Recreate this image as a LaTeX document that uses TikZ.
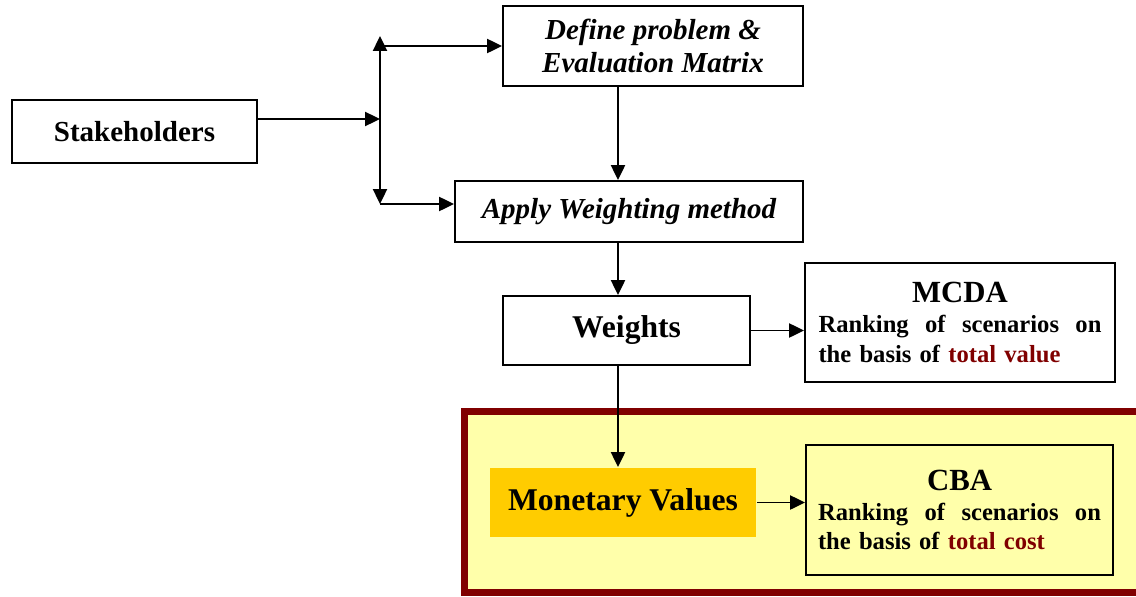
\documentclass[tikz,border=0pt]{standalone}
\usepackage{fontspec}
\setmainfont{Liberation Serif}
\usetikzlibrary{arrows.meta,positioning}
\definecolor{darkred}{RGB}{128,0,0}
\definecolor{paleyellow}{RGB}{255,255,170}
\definecolor{gold}{RGB}{255,204,0}

\begin{document}
\begin{tikzpicture}[->,>={Triangle[length=8.5pt,width=8pt]},line width=1.1pt,
        main node/.style={rectangle,draw,inner sep=0pt,font=\bfseries\fontsize{16.5}{19}\selectfont},
        task node/.style={main node,font=\bfseries\itshape\fontsize{16.5}{19}\selectfont},
        big node/.style={main node,font=\bfseries\fontsize{18}{21}\selectfont},
        result node/.style={main node,align=left,text width=161pt,font=\bfseries\fontsize{14}{17}\selectfont},
        frame node/.style={rectangle,draw=darkred,fill=paleyellow,line width=4pt}]

    \useasboundingbox (0,0) rectangle (22.72,-11.92);

    \node[main node,minimum width=4.9cm,minimum height=1.26cm] (stakeholders) at (2.69,-2.63) {Stakeholders};
    \node[task node,align=center,minimum width=6cm,minimum height=1.6cm] (define) at (13.06,-0.92) {Define problem \&\\Evaluation Matrix};
    \node[task node,minimum width=6.96cm,minimum height=1.22cm] (apply) at (12.58,-4.23) {Apply Weighting method};
    \node[big node,minimum width=4.94cm,minimum height=1.38cm] (weights) at (12.53,-6.61) {Weights};
    \node[result node,minimum width=6.2cm,minimum height=2.38cm] (mcda) at (19.2,-6.45)
        {\makebox[\linewidth]{\fontsize{17.5}{21}\selectfont MCDA}\\
         Ranking\hfill of\hfill scenarios\hfill on\\
         the basis of \textcolor{darkred}{total value}};

    % CBA part
    \node[frame node,minimum width=13.64cm,minimum height=3.62cm] (frame) at (16.11,-10.04) {};
    \node[big node,draw=none,fill=gold,minimum width=5.32cm,minimum height=1.38cm] (money) at (12.46,-10.05) {Monetary Values};
    \node[result node,minimum width=6.14cm,minimum height=2.6cm] (cba) at (19.19,-10.2)
        {\makebox[\linewidth]{\fontsize{17.5}{21}\selectfont CBA}\\
         Ranking\hfill of\hfill scenarios\hfill on\\
         the basis of \textcolor{darkred}{total cost}};

    \coordinate (fork) at (7.6,-2.38);
    \coordinate (forkup) at (7.6,-0.72);
    \coordinate (forkdown) at (7.6,-4.08);
    \coordinate (spine) at (12.36,-5);

    \draw (stakeholders.east |- fork) -- (fork);
    \draw (fork) -- (forkup);
    \draw (fork) -- (forkdown);
    \draw (forkup |- define.west) -- (define.west);
    \draw (forkdown) -- (apply.west |- forkdown);
    \draw (define.south -| spine) -- (apply.north -| spine);
    \draw (apply.south -| spine) -- (weights.north -| spine);
    \draw (weights.south -| spine) -- (money.north -| spine);
    \draw (weights.east) -- (mcda.west |- weights.east);
    \draw (money.east) -- (cba.west |- money.east);

\end{tikzpicture}
\end{document}
